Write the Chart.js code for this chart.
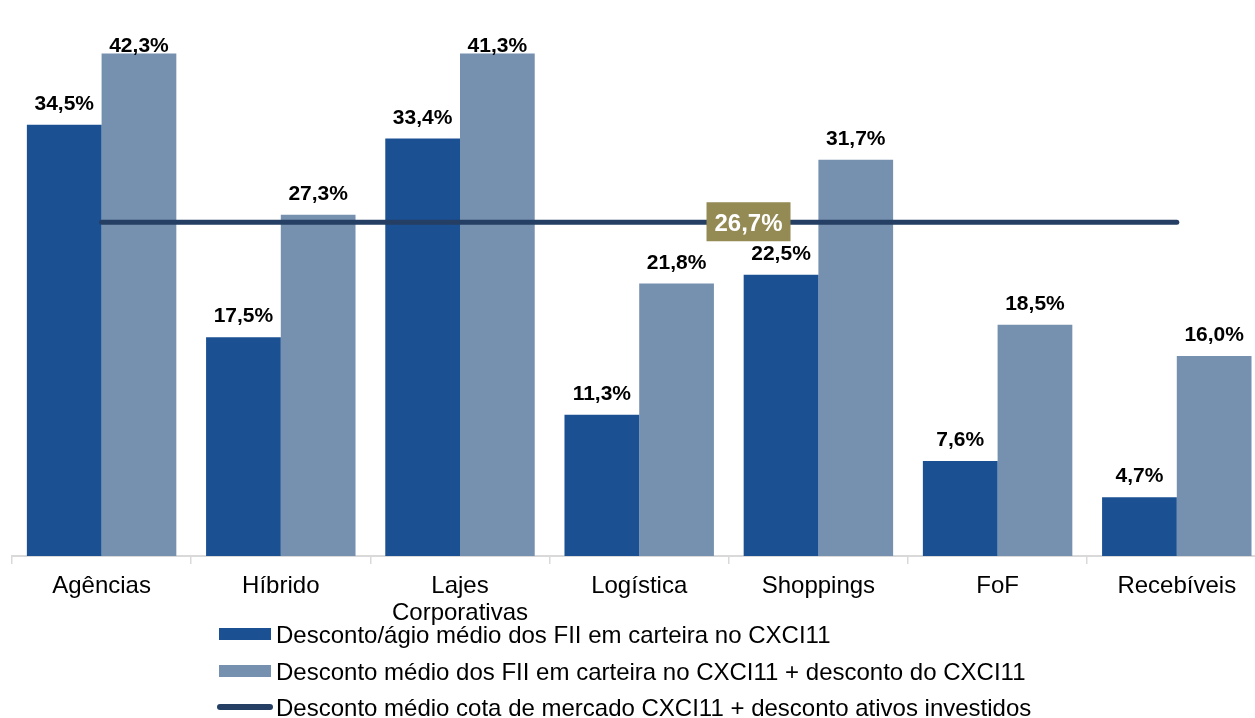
<!DOCTYPE html>
<html>
<head>
<meta charset="utf-8">
<script src="https://cdn.jsdelivr.net/npm/chart.js@4"></script>
<style>
  html, body { margin: 0; padding: 0; background: #fff; overflow: hidden; }
  #wrap { width: 1255px; height: 718px; overflow: hidden; }
</style>
</head>
<body>
<div id="wrap"><canvas id="myChart" width="1270" height="718"></canvas></div>
<script>
const categories = ['Agências', 'Híbrido', ['Lajes', 'Corporativas'], 'Logística', 'Shoppings', 'FoF', 'Recebíveis'];
const descontoAgio = [34.5, 17.5, 33.4, 11.3, 22.5, 7.6, 4.7];
const descontoTotal = [42.3, 27.3, 41.3, 21.8, 31.7, 18.5, 16.0];
const descontoMercado = [26.7, 26.7, 26.7, 26.7, 26.7, 26.7, 26.7];
const seriesNames = [
  'Desconto/ágio médio dos FII em carteira no CXCI11',
  'Desconto médio dos FII em carteira no CXCI11 + desconto do CXCI11',
  'Desconto médio cota de mercado CXCI11 + desconto ativos investidos'
];
const yMax = 40.2;

const fmt = v => v.toFixed(1).replace('.', ',') + '%';

// value labels above the bars + the boxed label on the line
const labelPlugin = {
  id: 'labels',
  afterDatasetsDraw(chart) {
    const ctx = chart.ctx;
    const area = chart.chartArea;
    ctx.save();
    ctx.font = 'bold 21px "Liberation Sans", Arial, sans-serif';
    ctx.fillStyle = '#000';
    ctx.textAlign = 'center';
    ctx.textBaseline = 'alphabetic';
    chart.data.datasets.forEach((ds, di) => {
      if (ds.type === 'line') return;
      const meta = chart.getDatasetMeta(di);
      meta.data.forEach((bar, i) => {
        const v = ds.data[i];
        let y = bar.y - 15;
        if (v > yMax) y = area.top - 2;
        ctx.fillText(fmt(v), bar.x, y);
      });
    });

    // boxed value on the line
    const xs = chart.scales.x;
    const ys = chart.scales.y;
    const cx = xs.getPixelForValue(3.61);
    const cy = ys.getPixelForValue(descontoMercado[0]);
    ctx.fillStyle = '#948A54';
    ctx.fillRect(cx - 42, cy - 20, 84, 39);
    ctx.fillStyle = '#fff';
    ctx.font = 'bold 24px "Liberation Sans", Arial, sans-serif';
    ctx.fillText(fmt(descontoMercado[0]), cx, cy + 9);
    ctx.restore();
  }
};

// vertical legend under the axis
const legendPlugin = {
  id: 'sideLegend',
  afterDraw(chart) {
    const ctx = chart.ctx;
    ctx.save();
    ctx.font = '24px "Liberation Sans", Arial, sans-serif';
    ctx.textAlign = 'left';
    ctx.textBaseline = 'alphabetic';
    const rows = [634, 671, 707];
    chart.data.datasets.forEach((ds, i) => {
      const y = rows[i];
      if (ds.type === 'line') {
        ctx.strokeStyle = ds.borderColor;
        ctx.lineWidth = 6;
        ctx.lineCap = 'round';
        ctx.beginPath();
        ctx.moveTo(220, y);
        ctx.lineTo(270, y);
        ctx.stroke();
      } else {
        ctx.fillStyle = ds.backgroundColor;
        ctx.fillRect(219, y - 6, 52, 12);
      }
      ctx.fillStyle = '#000';
      ctx.fillText(ds.label, 276, y + 8.5);
    });
    ctx.restore();
  }
};

const ctx = document.getElementById('myChart').getContext('2d');
new Chart(ctx, {
  type: 'bar',
  data: {
    labels: categories,
    datasets: [
      {
        label: seriesNames[0],
        data: descontoAgio,
        backgroundColor: '#1B5093',
        order: 1
      },
      {
        label: seriesNames[1],
        data: descontoTotal,
        backgroundColor: '#7690B0',
        order: 1
      },
      {
        type: 'line',
        label: seriesNames[2],
        data: descontoMercado,
        borderColor: '#243F63',
        borderWidth: 5,
        borderCapStyle: 'round',
        pointRadius: 0,
        fill: false,
        order: 0
      }
    ]
  },
  options: {
    responsive: false,
    animation: false,
    layout: { padding: { left: 12, right: 3.6, top: 53.5, bottom: 0 } },
    datasets: {
      bar: { categoryPercentage: 0.834, barPercentage: 1 }
    },
    plugins: {
      legend: { display: false },
      tooltip: { enabled: false }
    },
    scales: {
      x: {
        offset: true,
        grid: {
          display: true,
          offset: true,
          drawOnChartArea: false,
          drawTicks: true,
          tickLength: 8,
          color: '#D9D9D9',
          lineWidth: 1.5
        },
        border: { display: true, color: '#D9D9D9', width: 2 },
        ticks: {
          color: '#000',
          padding: 9,
          maxRotation: 0,
          autoSkip: false,
          font: { family: '"Liberation Sans", Arial, sans-serif', size: 24, lineHeight: 1.12 }
        },
        afterFit(scale) { scale.height = 162; }
      },
      y: {
        display: false,
        min: 0,
        max: yMax
      }
    }
  },
  plugins: [labelPlugin, legendPlugin]
});
</script>
</body>
</html>
